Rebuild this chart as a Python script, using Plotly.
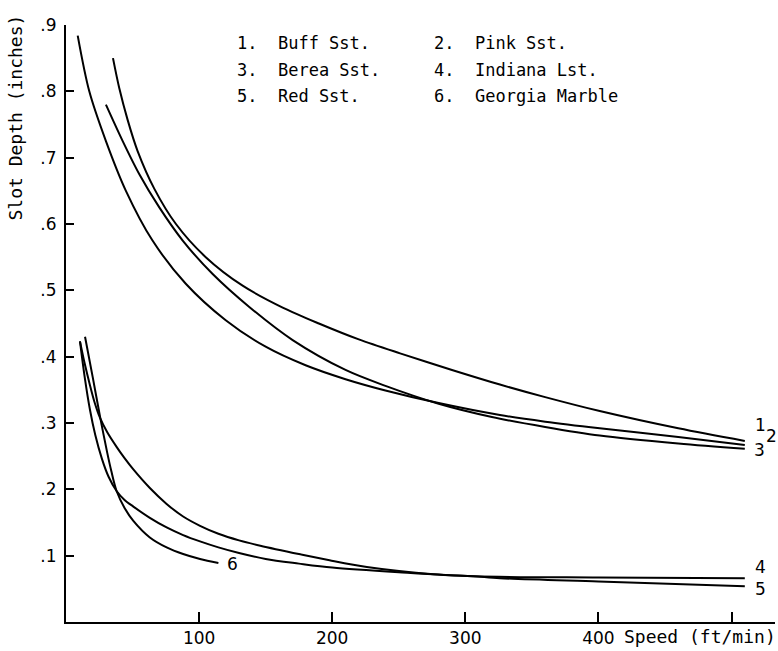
import plotly.graph_objects as go

# ---- data ----
buff_x = [35.3, 40, 46.3, 53.8, 66.4, 82.6, 105, 132.7, 162.8, 190, 220, 251, 290, 326, 360, 401, 460, 510]
buff_y = [0.850, 0.805, 0.757, 0.71, 0.653, 0.60, 0.55, 0.507, 0.474, 0.450, 0.426, 0.405, 0.380, 0.358, 0.339, 0.318, 0.292, 0.273]

pink_x = [8.8, 17.5, 30, 45, 65, 90, 120, 150, 180, 210, 240, 280, 326, 360, 401, 460, 510]
pink_y = [0.884, 0.80, 0.725, 0.65, 0.575, 0.51, 0.455, 0.415, 0.387, 0.366, 0.349, 0.330, 0.312, 0.302, 0.292, 0.279, 0.267]

berea_x = [30, 42.6, 55.1, 70.1, 87.7, 110, 137.7, 170.3, 210, 240, 280, 320, 360, 401, 460, 510]
berea_y = [0.78, 0.725, 0.675, 0.625, 0.575, 0.525, 0.475, 0.425, 0.38, 0.356, 0.329, 0.309, 0.294, 0.281, 0.269, 0.261]

indiana_x = [10.5, 14, 18, 22, 27, 32, 38, 44, 50.6, 63, 75.6, 88, 100.7, 114.5, 130, 150, 175, 200, 250, 306, 400, 510]
indiana_y = [0.423, 0.37, 0.32, 0.282, 0.246, 0.219, 0.1975, 0.184, 0.174, 0.157, 0.1425, 0.131, 0.1215, 0.1125, 0.104, 0.095, 0.088, 0.082, 0.075, 0.069, 0.067, 0.066]

red_x = [10.5, 14, 18, 21.5, 25.5, 31, 38, 44, 50.6, 63, 75.6, 88, 100.7, 114.5, 130, 146, 176, 198, 226, 276, 306, 326, 400, 510]
red_y = [0.423, 0.39, 0.357, 0.331, 0.308, 0.286, 0.264, 0.247, 0.230, 0.202, 0.178, 0.159, 0.145, 0.133, 0.123, 0.115, 0.102, 0.093, 0.083, 0.072, 0.069, 0.066, 0.061, 0.054]

marble_x = [14.3, 20, 26, 31, 34, 38, 44, 50.6, 63, 75.6, 88, 100.7, 114.5]
marble_y = [0.43, 0.37, 0.305, 0.255, 0.228, 0.1975, 0.172, 0.1525, 0.1275, 0.1125, 0.1025, 0.095, 0.089]

series = [
    ("1", "Buff Sst.", buff_x, buff_y),
    ("2", "Pink Sst.", pink_x, pink_y),
    ("3", "Berea Sst.", berea_x, berea_y),
    ("4", "Indiana Lst.", indiana_x, indiana_y),
    ("5", "Red Sst.", red_x, red_y),
    ("6", "Georgia Marble", marble_x, marble_y),
]

x_ticks = [100, 200, 300, 400, 500]
x_ticktext = ["100", "200", "300", "400", ""]
y_ticks = [0.1, 0.2, 0.3, 0.4, 0.5, 0.6, 0.7, 0.8, 0.9]
y_ticktext = [".1", ".2", ".3", ".4", ".5", ".6", ".7", ".8", ".9"]

MONO = "DejaVu Sans Mono"
SANS = "DejaVu Sans"

fig = go.Figure()
for num, name, xs, ys in series:
    fig.add_trace(go.Scatter(
        x=xs, y=ys, mode="lines", name=f"{num}. {name}",
        line=dict(color="black", width=2, shape="spline", smoothing=0.9),
        showlegend=False, hoverinfo="skip",
    ))

W, H = 778, 651
L, R, T, B = 66, 3, 25, 26
PW, PH = W - L - R, H - T - B

def px2paper(px, py):
    return (px - L) / PW, (H - B - py) / PH

annotations = []
leg_pos = {
    "1": (235, 43), "2": (432, 43),
    "3": (235, 70), "4": (432, 70),
    "5": (235, 96), "6": (432, 96),
}
for num, name, xs, ys in series:
    px, py = leg_pos[num]
    xp, yp = px2paper(px, py)
    annotations.append(dict(x=xp, y=yp, xref="paper", yref="paper",
                            text=f"{num}.  {name}", showarrow=False,
                            xanchor="left", yanchor="middle",
                            font=dict(family=MONO, size=17, color="black")))

curve_labels = [("1", 760, 427), ("2", 771, 438), ("3", 759, 452),
                ("4", 760, 570), ("5", 760, 592), ("6", 232, 567)]
for t, px, py in curve_labels:
    xp, yp = px2paper(px, py)
    annotations.append(dict(x=xp, y=yp, xref="paper", yref="paper", text=t,
                            showarrow=False, xanchor="center", yanchor="middle",
                            font=dict(family=SANS, size=17, color="black")))

xp, yp = px2paper(16, 118)
annotations.append(dict(x=xp, y=yp, xref="paper", yref="paper",
                        text="Slot Depth (inches)", textangle=-90, showarrow=False,
                        xanchor="center", yanchor="middle",
                        font=dict(family=MONO, size=18, color="black")))
xp, yp = px2paper(622, 640)
annotations.append(dict(x=xp, y=yp, xref="paper", yref="paper",
                        text="Speed (ft/min)", showarrow=False,
                        xanchor="left", yanchor="middle",
                        font=dict(family=MONO, size=18, color="black")))

fig.update_layout(
    width=W, height=H,
    margin=dict(l=L, r=R, t=T, b=B),
    paper_bgcolor="white", plot_bgcolor="white",
    annotations=annotations,
    xaxis=dict(range=[0, PW / 1.331], showline=True, linecolor="black", linewidth=2,
               ticks="inside", ticklen=10, tickwidth=2, tickcolor="black",
               tickvals=x_ticks, ticktext=x_ticktext, showgrid=False, zeroline=False,
               tickfont=dict(family=SANS, size=17, color="black")),
    yaxis=dict(range=[0, 0.9], showline=True, linecolor="black", linewidth=2,
               ticks="inside", ticklen=8, tickwidth=2, tickcolor="black",
               tickvals=y_ticks, ticktext=y_ticktext, showgrid=False, zeroline=False,
               tickfont=dict(family=SANS, size=17, color="black"),
               ticklabelstandoff=4),
)

fig.write_html("out.html")
